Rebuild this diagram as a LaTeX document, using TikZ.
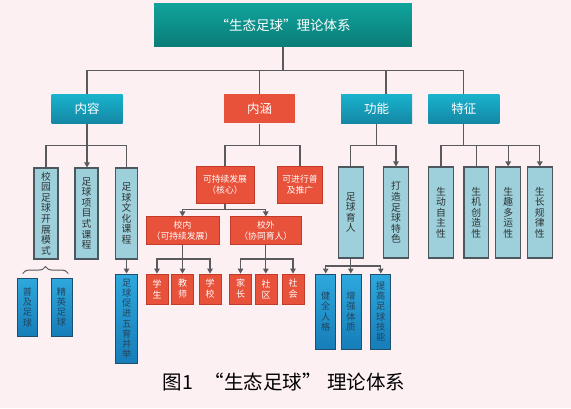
\documentclass[tikz,border=0pt]{standalone}
\usepackage{fontspec}
\setmainfont{Noto Sans CJK SC}
\usetikzlibrary{arrows.meta,decorations.pathreplacing}
\definecolor{bgpink}{HTML}{FCF0F3}
\definecolor{tealA}{HTML}{0FA39C}
\definecolor{tealB}{HTML}{0B7D78}
\definecolor{catA}{HTML}{19B3CD}
\definecolor{catB}{HTML}{1487A5}
\definecolor{redc}{HTML}{E8513A}
\definecolor{redd}{HTML}{C23A28}
\definecolor{lblue}{HTML}{9DD0DA}
\definecolor{lborder}{HTML}{4C585E}
\definecolor{ltext}{HTML}{2E3336}
\definecolor{dblueA}{HTML}{2EA8DD}
\definecolor{dblueB}{HTML}{167DB8}
\definecolor{dborder}{HTML}{1E4F70}
\definecolor{dtext}{HTML}{22455F}
\definecolor{linec}{HTML}{5A5A5E}
\begin{document}
\begin{tikzpicture}[x=1pt,y=-1pt,
  box/.style={rectangle, inner sep=0pt, align=center},
  topbox/.style={box, top color=tealA, bottom color=tealB, text=white, font=\fontsize{13.5}{16}\selectfont},
  catbox/.style={box, top color=catA, bottom color=catB, text=white, font=\fontsize{12.5}{15}\selectfont, minimum width=71pt, minimum height=29.3pt},
  redcat/.style={box, fill=redc, text=white, font=\fontsize{12.5}{15}\selectfont, minimum width=71pt, minimum height=29.3pt},
  redbox/.style={box, fill=redc, draw=redd, line width=0.8pt, text=white, font=\fontsize{8.8}{11}\selectfont},
  redsmall/.style={redbox, minimum width=22pt, minimum height=30pt, font=\fontsize{9}{11}\selectfont},
  lbox/.style={box, fill=lblue, draw=lborder, line width=1.1pt, text=ltext, font=\fontsize{9.8}{10.6}\selectfont, minimum height=91pt},
  dbox/.style={box, top color=dblueA, bottom color=dblueB, draw=dborder, line width=1pt, text=dtext, font=\fontsize{9.2}{10.2}\selectfont},
  link/.style={draw=linec, line width=1.2pt},
  arr/.style={link, -{Triangle[width=5.5pt,length=5pt]}}
]
\fill[bgpink] (0,0) rectangle (571,408);

% top
\node[topbox, minimum width=257.7pt, minimum height=43.4pt] (top) at (283,25) {“生态足球”理论体系};

% level 2
\node[catbox] (nr) at (87,108.7) {内容};
\node[redcat] (nh) at (259.6,108.7) {内涵};
\node[catbox] (gn) at (376.5,108.7) {功能};
\node[catbox] (tz) at (463.8,108.7) {特征};

\coordinate (b0) at (283,70.7);
\draw[link] (top.south) -- (b0);
\draw[link] (nr.north) |- (b0);
\draw[link] (nh.north) |- (b0);
\draw[link] ([xshift=9.5pt]gn.north) |- (b0);
\draw[link] (tz.north) |- (b0);

% content branch
\node[lbox, minimum width=24pt] (c1) at (46,213.5) {校\\园\\足\\球\\开\\展\\模\\式};
\node[lbox, minimum width=23pt] (c2) at (86.5,213.5) {足\\球\\项\\目\\式\\课\\程};
\node[lbox, minimum width=22pt] (c3) at (126.5,213.5) {足\\球\\文\\化\\课\\程};
\coordinate (b1) at (87,145.7);
\draw[link] (c1.north) |- (b1);
\draw[link] (c3.north) |- (b1);
\draw[arr] (nr.south) -- (nr.south |- c2.north);

\node[dbox, minimum width=20.4pt, minimum height=57.7pt] (d1) at (27.5,307.2) {普\\及\\足\\球};
\node[dbox, minimum width=21pt, minimum height=57.7pt] (d2) at (61.5,307.2) {精\\英\\足\\球};
\node[dbox, minimum width=21.7pt, minimum height=89.3pt] (d3) at (126.8,318.7) {足\\球\\促\\进\\五\\育\\并\\举};
\draw[arr] (c3.south) -- (c3.south |- d3.north);
\draw[link, line width=1pt, decorate, decoration={brace, amplitude=7pt}]
  ([xshift=-4.8pt,yshift=4.3pt]d1.north) -- ([xshift=6.8pt,yshift=4.3pt]d2.north);

% connotation branch
\node[redbox, minimum width=58pt, minimum height=36.6pt] (r1) at (225,185) {可持续发展\\（核心）};
\node[redbox, minimum width=45.4pt, minimum height=36.6pt] (r2) at (300,185) {可进行普\\及推广};
\coordinate (b2) at (259.6,145.7);
\draw[link] (nh.south) -- (b2);
\draw[link] (r1.north) |- (b2);
\draw[link] (r2.north) |- (b2);

\node[redbox, minimum width=73pt, minimum height=27.3pt] (r3) at (182.5,230.5) {校内\\（可持续发展）};
\node[redbox, minimum width=71.7pt, minimum height=27.3pt] (r4) at (265.8,230.5) {校外\\（协同育人）};
\coordinate (b3) at (225,209.5);
\draw[link] (r1.south) -- (b3);
\draw[arr] (b3) -| (r3.north);
\draw[arr] (b3) -| (r4.north);

\node[redsmall] (s1) at (157,289) {学\\生};
\node[redsmall] (s2) at (182.5,289) {教\\师};
\node[redsmall] (s3) at (210,289) {学\\校};
\node[redsmall] (s4) at (240.5,289) {家\\长};
\node[redsmall] (s5) at (266,289) {社\\区};
\node[redsmall] (s6) at (293,289) {社\\会};
\coordinate (b4) at (182.5,259);
\coordinate (b4b) at (265.8,259);
\draw[arr] (r3.south) -- (s2.north);
\draw[arr] (b4) -| (s1.north);
\draw[arr] (b4) -| (s3.north);
\draw[arr] (r4.south) -- (r4.south |- s5.north);
\draw[arr] (b4b) -| (s4.north);
\draw[arr] (b4b) -| (s6.north);

% function branch
\node[lbox, minimum width=25pt] (f1) at (350.8,212.5) {足\\球\\育\\人};
\node[lbox, minimum width=25.4pt] (f2) at (396,212.5) {打\\造\\足\\球\\特\\色};
\coordinate (b5) at (376.5,145.7);
\draw[link] (gn.south) -- (b5);
\draw[link] (f1.north) |- (b5);
\draw[arr] (b5) -| (f2.north);

\node[dbox, minimum width=20pt, minimum height=75pt] (g1) at (325.7,311.5) {健\\全\\人\\格};
\node[dbox, minimum width=20pt, minimum height=75pt] (g2) at (351,311.5) {增\\强\\体\\质};
\node[dbox, minimum width=19.7pt, minimum height=75pt] (g3) at (380.8,311.5) {提\\高\\足\\球\\技\\能};
\coordinate (b7) at (351,266);
\draw[arr] (f1.south) -- (f1.south |- g2.north);
\draw[arr] (b7) -| (g1.north);
\draw[arr] (b7) -| (g3.north);

% feature branch
\node[lbox, minimum width=25pt] (t1) at (441,212.5) {生\\动\\自\\主\\性};
\node[lbox, minimum width=24.7pt] (t2) at (476.3,212.5) {生\\机\\创\\造\\性};
\node[lbox, minimum width=25pt] (t3) at (508.2,212.5) {生\\趣\\多\\运\\性};
\node[lbox, minimum width=25pt] (t4) at (539.8,212.5) {生\\长\\规\\律\\性};
\coordinate (b6) at (463.8,145.7);
\draw[link] (tz.south) -- (b6);
\draw[link] (t1.north) |- (b6);
\draw[link] (b6) -| (t2.north);
\draw[arr] (b6) -| (t3.north);
\draw[arr] (b6) -| (t4.north);

% caption
\node[font=\fontsize{19.5}{22}\selectfont, text=black, inner sep=0pt] (cap) at (284,382.5)
  {图1\hspace{20pt}\makebox[11pt][r]{“}生态足球\makebox[25pt][l]{”}理论体系};
\end{tikzpicture}
\end{document}
